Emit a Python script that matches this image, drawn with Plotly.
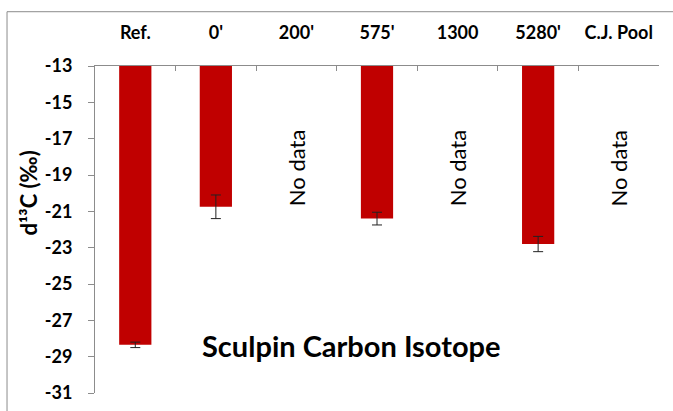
import plotly.graph_objects as go

categories = ["Ref.", "0'", "200'", "575'", "1300", "5280'", "C.J. Pool"]
values = [-28.35, -20.75, None, -21.4, None, -22.8, None]
errors = [0.15, 0.65, 0, 0.35, 0, 0.42, 0]
no_data_cats = ["200'", "1300", "C.J. Pool"]
y_ticks = [-13, -15, -17, -19, -21, -23, -25, -27, -29, -31]
y_tick_text = ["-13", "-15", "-17", "-19", "-21", "-23", "-25", "-27", "-29", "-31"]

FONT = "Lato"
AXIS_GREY = "#8c8c8c"

fig = go.Figure()
fig.add_trace(go.Bar(
    x=categories, y=values,
    marker=dict(color="#C00000", line=dict(width=0)),
    error_y=dict(type="data", array=errors, visible=True,
                 color="#222222", thickness=1, width=5),
))

for c in no_data_cats:
    fig.add_annotation(x=categories.index(c), y=-18.6, xref="x", yref="y",
                       text="No data", textangle=-90, showarrow=False,
                       xanchor="center", yanchor="middle",
                       font=dict(family=FONT, size=22, color="#000000"))

fig.add_annotation(x=0.455, y=0.145, xref="paper", yref="paper",
                   xanchor="center", yanchor="middle",
                   text="<b>Sculpin Carbon Isotope</b>", showarrow=False,
                   font=dict(family=FONT, size=29, color="#000000"))

fig.add_annotation(x=-0.117, y=0.61, xref="paper", yref="paper",
                   xanchor="center", yanchor="middle",
                   text="<b>d¹³C (‰)</b>", textangle=-90,
                   showarrow=False,
                   font=dict(family=FONT, size=22, color="#000000"))

fig.add_shape(type="rect", xref="paper", yref="paper",
              x0=-0.156, x1=1.06, y0=-0.1, y1=1.166,
              line=dict(color=AXIS_GREY, width=1), fillcolor="rgba(0,0,0,0)")

fig.update_layout(
    width=673, height=411,
    margin=dict(l=95, r=14, t=66, b=8),
    paper_bgcolor="white", plot_bgcolor="white",
    showlegend=False, bargap=0.6,
    font=dict(family=FONT, color="#000000"),
    xaxis=dict(type="category", categoryorder="array", categoryarray=categories,
               range=[-0.5, len(categories) - 0.5],
               side="top", showline=True, linecolor=AXIS_GREY,
               linewidth=1, ticks="inside", tickson="boundaries", ticklen=5,
               tickcolor=AXIS_GREY, showgrid=False, zeroline=False,
               tickfont=dict(family=FONT, size=18, color="#000000", weight="bold"),
               ticklabelstandoff=19),
    yaxis=dict(range=[-31, -13], tickvals=y_ticks, ticktext=y_tick_text,
               showline=True,
               linecolor=AXIS_GREY, linewidth=1, ticks="outside", ticklen=6,
               tickcolor=AXIS_GREY, showgrid=False, zeroline=False,
               ticklabeloverflow="allow",
               tickfont=dict(family=FONT, size=18, color="#000000", weight="bold"),
               ticklabelstandoff=12),
)

fig.write_html("out.html")
